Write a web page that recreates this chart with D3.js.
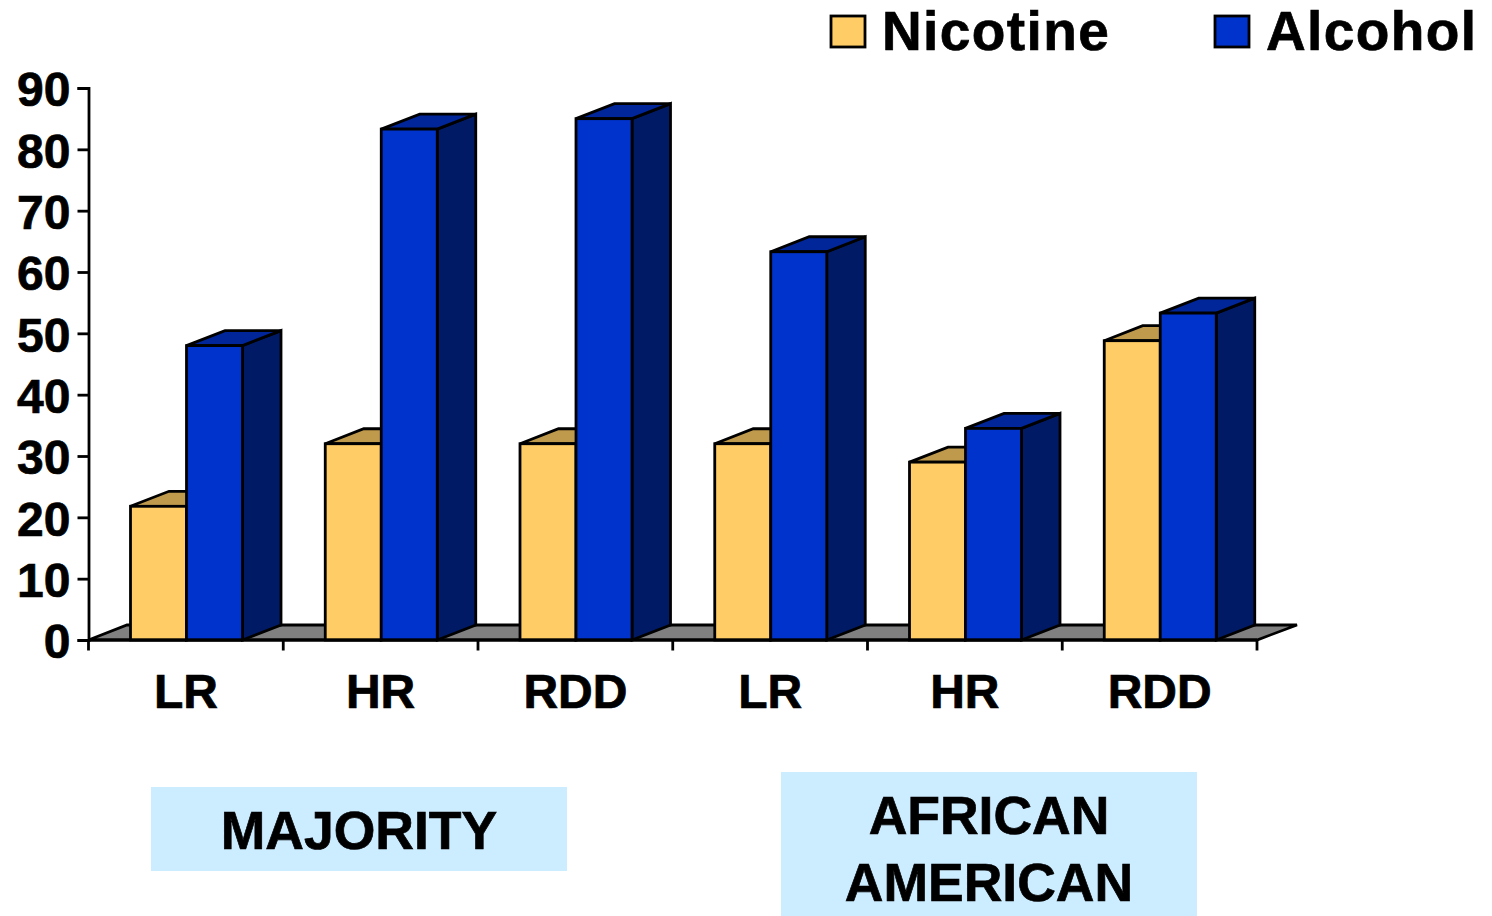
<!DOCTYPE html>
<html>
<head>
<meta charset="utf-8">
<script src="https://cdn.jsdelivr.net/npm/d3@7/dist/d3.min.js"></script>
<style>
html,body{margin:0;padding:0;background:#fff;overflow:hidden}
text{font-family:"Liberation Sans",Arial,sans-serif;font-weight:bold;fill:#000;stroke:#000;stroke-width:0.7px}
</style>
</head>
<body>
<svg id="c" width="1492" height="916"></svg>
<script>
const categories = ["LR","HR","RDD","LR","HR","RDD"];
const seriesNames = ["Nicotine","Alcohol"];
const nicotine = [21.8,32,32,32,29,48.8];
const alcohol = [48,83.3,85,63.3,34.5,53.3];
const yTicks = [0,10,20,30,40,50,60,70,80,90];
const groupLabels = [["MAJORITY"],["AFRICAN","AMERICAN"]];

const colors = {
  Nicotine:{front:"#FFCC66",top:"#BF9A4D",side:"#BF9A4D"},
  Alcohol:{front:"#0033CC",top:"#00269A",side:"#001A66"}
};
const dx = 38.5, dy = -15;
const sw = 2.8;
const svg = d3.select("#c");
const y = d3.scaleLinear().domain([0,90]).range([640,88]);
const x = d3.scaleBand().domain(d3.range(categories.length)).range([88.5,1257]).paddingInner(0).paddingOuter(0);
const inner = d3.scaleBand().domain(seriesNames).range([42,154]);
const y0 = y(0);

const poly = pts => "M"+pts.map(p=>p.join(",")).join("L")+"Z";

// floor
svg.append("path")
  .attr("d",poly([[x.range()[0],y0],[x.range()[0]+dx,y0+dy],[x.range()[1]+dx+1.5,y0+dy],[x.range()[1],y0]]))
  .attr("fill","#808080").attr("stroke","#000").attr("stroke-width",sw).attr("stroke-linejoin","miter");

// bars
const series = [["Nicotine",nicotine],["Alcohol",alcohol]];
categories.forEach((c,i)=>{
  series.forEach(([name,vals])=>{
    const g = svg.append("g").attr("class","bar");
    const l = x(i)+inner(name), r = l+inner.bandwidth(), t = y(vals[i]);
    const col = colors[name];
    g.append("path").attr("d",poly([[r,t],[r+dx,t+dy],[r+dx,y0+dy],[r,y0]])).attr("fill",col.side);
    g.append("path").attr("d",poly([[l,t],[l+dx,t+dy],[r+dx,t+dy],[r,t]])).attr("fill",col.top);
    g.append("rect").attr("x",l).attr("y",t).attr("width",r-l).attr("height",y0-t).attr("fill",col.front);
    g.selectAll("path,rect").attr("stroke","#000").attr("stroke-width",sw).attr("stroke-linejoin","miter");
  });
});

// y axis
const ya = svg.append("g").attr("transform","translate(88.5,0)")
  .call(d3.axisLeft(y).tickValues(yTicks).tickSize(11).tickPadding(7));
ya.select(".domain").attr("stroke","#000").attr("stroke-width",sw);
ya.selectAll("line").attr("stroke","#000").attr("stroke-width",sw);
ya.selectAll("text").style("font-size","48px").attr("dy","0.37em").attr("fill","#000");

// x axis: ticks on band edges, labels on band centres
const edges = d3.range(categories.length+1).map(i=>x.range()[0]+i*x.step());
const xg = svg.append("g").attr("transform",`translate(0,${y0})`);
xg.append("line").attr("x1",edges[0]).attr("x2",edges[edges.length-1]).attr("stroke","#000").attr("stroke-width",sw);
xg.selectAll(".t").data(edges).join("line").attr("class","t")
  .attr("x1",d=>d).attr("x2",d=>d).attr("y1",0).attr("y2",10.5).attr("stroke","#000").attr("stroke-width",sw);
xg.selectAll(".l").data(categories).join("text").attr("class","l")
  .attr("x",(d,i)=>x(i)+x.bandwidth()/2).attr("y",68)
  .attr("text-anchor","middle").style("font-size","48px").text(d=>d);

// legend
const legendX = [830,1214];
seriesNames.forEach((n,i)=>{
  svg.append("rect").attr("x",legendX[i]+1).attr("y",16).attr("width",34).attr("height",31)
    .attr("fill",colors[n].front).attr("stroke","#000").attr("stroke-width",sw);
  svg.append("text").attr("x",legendX[i]+52).attr("y",50).style("font-size","55px").style("letter-spacing","1.4px").text(n);
});

// group boxes
const boxes = [{x:151,y:787,w:416,h:84},{x:781,y:772,w:416,h:144}];
boxes.forEach((b,i)=>{
  svg.append("rect").attr("x",b.x).attr("y",b.y).attr("width",b.w).attr("height",b.h).attr("fill","#CCECFF");
  groupLabels[i].forEach((s,j)=>{
    svg.append("text").attr("x",b.x+b.w/2).attr("y",b.y+62+j*67)
      .attr("text-anchor","middle").style("font-size","53.5px").text(s);
  });
});
</script>
</body>
</html>
